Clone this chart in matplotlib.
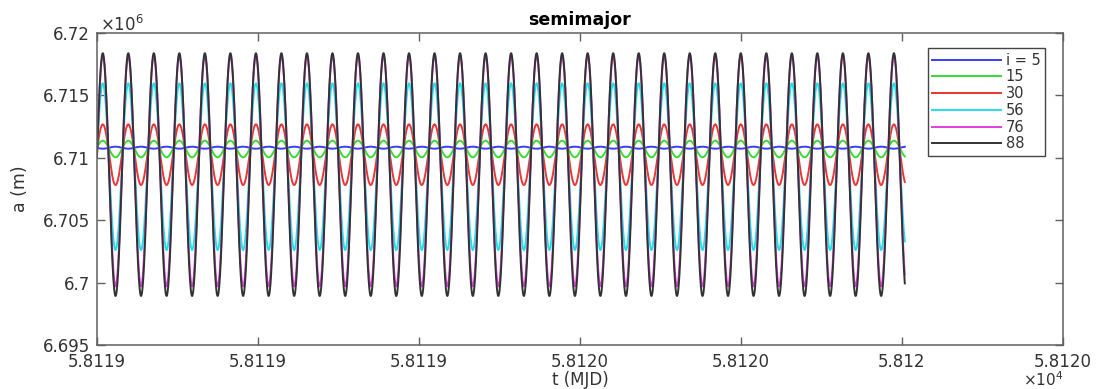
import numpy as np
import matplotlib
matplotlib.use('Agg')
import matplotlib.pyplot as plt

# Osculating semimajor axis over one day for several orbit inclinations
inclinations = [5, 15, 30, 56, 76, 88]
legend_labels = ['i = 5', '15', '30', '56', '76', '88']
# value of a at the ascending node / at 90 deg argument of latitude (m)
a_at_node = [6.71073e6, 6.71137e6, 6.71268e6, 6.71597e6, 6.71815e6, 6.71838e6]
a_at_quad = [6.71089e6, 6.71004e6, 6.70782e6, 6.70261e6, 6.69970e6, 6.69893e6]
line_colors = ['#3a3aff', '#33dd33', '#ee3333', '#22e0e8', '#e040e0', '#333333']

mjd_start = 58119.0
mjd_end = 58120.0035
first_node_mjd = 58119.0072
orbit_period_days = 0.063404

x_ticks = [58119.0, 58119.2, 58119.4, 58119.6, 58119.8, 58120.0, 58120.2]
x_tick_labels = ['5.8119', '5.8119', '5.8119', '5.8120', '5.8120', '5.812', '5.8120']
y_ticks = [6.695e6, 6.700e6, 6.705e6, 6.710e6, 6.715e6, 6.720e6]
y_tick_labels = ['6.695', '6.7', '6.705', '6.71', '6.715', '6.72']

plt.rcParams['font.family'] = ['DejaVu Sans']

t = np.linspace(mjd_start, mjd_end, 4000)
arg_lat = 2 * np.pi * (t - first_node_mjd) / orbit_period_days

fig = plt.figure(figsize=(10.97, 3.89), dpi=100)
ax = fig.add_axes([0.0884, 0.1131, 0.8806, 0.8021])

for inc, lab, a_n, a_q, col in zip(inclinations, legend_labels, a_at_node, a_at_quad, line_colors):
    mid = 0.5 * (a_n + a_q)
    half = 0.5 * (a_n - a_q)
    a = mid + half * np.cos(2 * arg_lat)
    ax.plot(t, a, color=col, linewidth=1.4, label=lab)

ax.set_xlim(58119.0, 58120.2)
ax.set_ylim(6.695e6, 6.72e6)
ax.set_xticks(x_ticks)
ax.set_xticklabels(x_tick_labels)
ax.set_yticks(y_ticks)
ax.set_yticklabels(y_tick_labels)

axis_grey = '#606060'
text_grey = '#333333'
for sp in ax.spines.values():
    sp.set_color(axis_grey)
    sp.set_linewidth(1.1)
ax.tick_params(direction='in', length=6, width=1.0, color=axis_grey,
               labelcolor=text_grey, labelsize=12, top=True, right=True)
ax.tick_params(axis='x', pad=6)
ax.tick_params(axis='y', pad=5)

ax.set_title('semimajor', fontsize=12.5, fontweight='bold', pad=6)
ax.set_xlabel('t (MJD)', fontsize=12, color=text_grey, labelpad=0)
ax.set_ylabel('a (m)', fontsize=12.5, color=text_grey, labelpad=10)

# exponent labels drawn the way MATLAB puts them beside the axes
ax.text(0.003, 0.994, r'$\times10^{6}$', transform=ax.transAxes,
        fontsize=12, color=text_grey, ha='left', va='bottom')
ax.text(1.0, -0.082, r'$\times10^{4}$', transform=ax.transAxes,
        fontsize=11, color=text_grey, ha='right', va='top')

leg = ax.legend(loc='upper right', bbox_to_anchor=(0.9814, 0.951),
                borderaxespad=0, fontsize=10.5, handlelength=4.7,
                labelspacing=0.12, handletextpad=0.35, borderpad=0.3,
                fancybox=False, framealpha=1, edgecolor='#444444')
leg.get_frame().set_linewidth(1.0)
for txt in leg.get_texts():
    txt.set_color(text_grey)

fig.savefig('out.png', dpi=100)
